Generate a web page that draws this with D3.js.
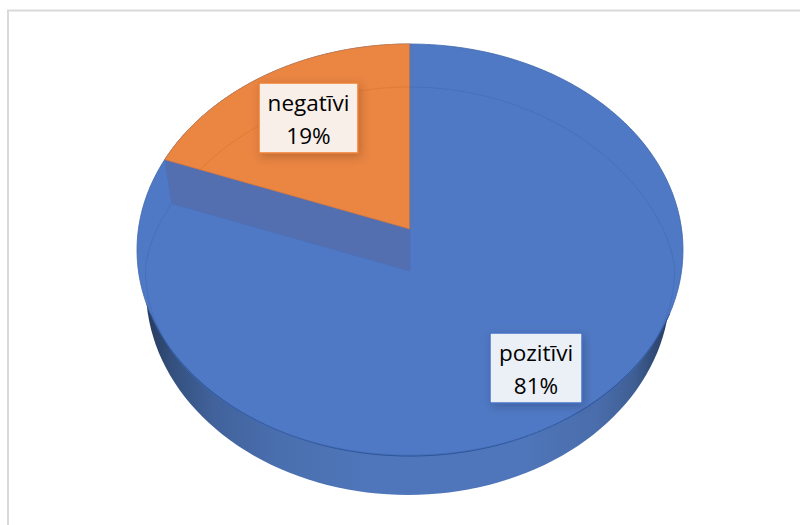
<!DOCTYPE html>
<html><head><meta charset="utf-8">
<script src="https://cdn.jsdelivr.net/npm/d3@7"></script>
<style>html,body{margin:0;padding:0;background:#fff;overflow:hidden}svg{display:block}</style>
</head><body><svg id="c" width="800" height="525"></svg>
<script>
const categories = ["pozitīvi", "negatīvi"];
const values = [81, 19];
const percentLabels = ["81%", "19%"];
const sliceColors = ["#5079c5", "#ea8542"];
const svg = d3.select("#c");
const defs = svg.append("defs");

// frame
svg.append("path").attr("d", "M8,525V10.5H800").attr("fill","none").attr("stroke","#d9d9d9").attr("stroke-width",2);

const pie = d3.pie().sort(null).value((d,i)=>values[i]).startAngle(0).endAngle(2*Math.PI);
const arcs = pie(categories);
const orange = arcs[1];

// the 3D view foreshortens the slice's visible sweep slightly
const viewSqueeze = 0.935;
const cx = 410;
const ell = {
  top: {cx:410, cy:250, rx:273, ry:206, p:1},
  floor:{cx:410, cy:271, rx:264.5, ry:184, p:1.2},
  base:{cx:408, cy:289, rx:262, ry:206, p:1}
};
const pt = (e,a)=>{
  const c = Math.cos(a);
  const k = c>0 ? Math.pow(c,e.p) : c;
  return [e.cx + e.rx*Math.sin(a), e.cy - e.ry*k];
};
const line = d3.line();
const sweep = (e,a0,a1,n=160)=>d3.range(n+1).map(i=>pt(e,a0+(a1-a0)*i/n));
const apexTop = [cx,229], apexLow = [cx,271];

const grad = defs.append("linearGradient").attr("id","side").attr("gradientUnits","userSpaceOnUse")
  .attr("x1",146).attr("x2",670).attr("y1",0).attr("y2",0);
[[0,"#263a5c"],[0.05,"#34507f"],[0.13,"#41629b"],[0.25,"#4a6fae"],[0.42,"#4f76ba"],[0.72,"#4f76ba"],[0.86,"#4a6dab"],[0.93,"#3f5f94"],[1,"#273c60"]]
  .forEach(s=>grad.append("stop").attr("offset",s[0]).attr("stop-color",s[1]));

const sh = defs.append("filter").attr("id","shadow").attr("x","-30%").attr("y","-30%").attr("width","160%").attr("height","160%");
sh.append("feDropShadow").attr("dx",2).attr("dy",3).attr("stdDeviation",5).attr("flood-color","#000").attr("flood-opacity",0.2);

// side wall
svg.append("path").attr("d", line(sweep(ell.base,0,2*Math.PI))+"Z").attr("fill","url(#side)");
// top surface blue
svg.append("path").attr("d", line(sweep(ell.top,0,2*Math.PI))+"Z").attr("fill",sliceColors[0]).attr("stroke","#3f66ab").attr("stroke-width",0.8);
// rim between surface and side, lower part
svg.append("path").attr("d", line(sweep(ell.top,Math.PI*0.6,Math.PI*1.4))).attr("fill","none").attr("stroke","#2f5597").attr("stroke-width",1);

// faint inner ellipse
svg.append("path").attr("d", line(sweep(ell.floor,0,2*Math.PI))+"Z").attr("fill","none").attr("stroke","#3f6cb8").attr("stroke-width",1).attr("opacity",0.7);

// orange slice, ends at 12 o'clock
const a1 = 0, a0 = (orange.startAngle-orange.endAngle)*viewSqueeze;
const rim = sweep(ell.top,a0,a1);
// wall of the cut, dropping from the rim corner to the floor
const wallDrop = [7,44];
const wallLow = [rim[0][0]+wallDrop[0], rim[0][1]+wallDrop[1]];
svg.append("path").attr("d", line([rim[0],apexTop,apexLow,wallLow])+"Z").attr("fill","#546fb0").attr("stroke","#4a70b8").attr("stroke-width",0.7);
svg.append("path").attr("d", line([apexTop,...rim])+"Z").attr("fill",sliceColors[1]).attr("stroke","#dd7a38").attr("stroke-width",0.8);
svg.append("path").attr("d", line(sweep(ell.floor,a0+0.2,a1))).attr("fill","none").attr("stroke","#e27a34").attr("stroke-width",1);
// vertical seam above the apex
svg.append("path").attr("d", line([apexTop,pt(ell.top,0)])).attr("stroke","#3f6cb8").attr("stroke-width",0.8);

// labels
const boxes = [
  {i:0,x:490,y:333,w:92,h:70,fill:"#ebeff6",stroke:"#4472c4"},
  {i:1,x:259,y:83,w:99,h:70,fill:"#f9efe9",stroke:"#ed7d31"}
];
boxes.forEach(b=>{
  svg.append("rect").attr("x",b.x).attr("y",b.y).attr("width",b.w).attr("height",b.h)
    .attr("fill",b.fill).attr("stroke",b.stroke).attr("stroke-width",1.5).attr("filter","url(#shadow)");
  const t = svg.append("text").attr("text-anchor","middle")
    .attr("font-family","'Open Sans',sans-serif").attr("font-size",22.5).attr("fill","#000");
  t.append("tspan").attr("x",b.x+b.w/2).attr("y",b.y+27.5).text(categories[b.i]);
  t.append("tspan").attr("x",b.x+b.w/2).attr("y",b.y+60.5).text(percentLabels[b.i]);
});
</script></body></html>
